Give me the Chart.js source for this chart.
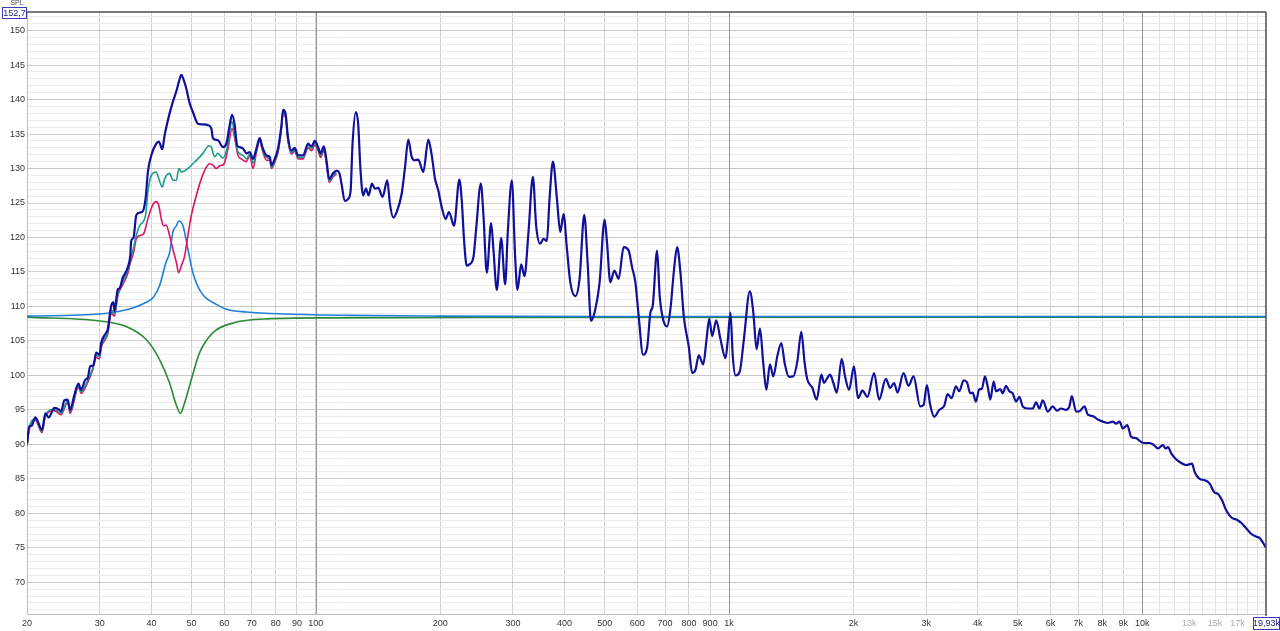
<!DOCTYPE html>
<html>
<head>
<meta charset="utf-8">
<title>SPL</title>
<script src="https://cdn.jsdelivr.net/npm/chart.js@4.4.1/dist/chart.umd.min.js"></script>
<style>
  html, body { margin: 0; padding: 0; background: #fff; }
  canvas { display: block; }
</style>
</head>
<body>
<canvas id="spl" width="1280" height="631"></canvas>
<script>
// measured response (dark blue), Hz / dB
const mainHz = [20, 20.26, 20.52, 20.95, 21.75, 22.16, 22.57, 23.3, 23.96, 24.18, 24.63, 25.09, 25.43, 26.05, 26.64, 27.04, 27.7, 28.05, 28.43, 28.84, 29.12, 29.4, 29.95, 30.24, 31.09, 31.37, 31.97, 32.38, 32.56, 33.17, 33.48, 34.11, 34.63, 35.08, 35.55, 35.75, 36.22, 36.76, 37.45, 38.02, 38.72, 39.23, 39.97, 41.1, 41.7, 42.5, 43.05, 44.27, 45.1, 45.96, 46.63, 47.26, 47.86, 48.59, 49.49, 50.41, 51.84, 53.31, 54.82, 55.88, 56.37, 57.97, 59.61, 60.75, 61.88, 62.69, 63.64, 64.46, 65.44, 66.66, 67.92, 69.18, 70.47, 71.81, 73.15, 74.27, 75.95, 77.36, 78.09, 79.54, 81.02, 82.57, 83.31, 84.44, 85.68, 87.33, 88.95, 90.59, 93.15, 95.79, 97.63, 99.45, 101.3, 102.7, 104.6, 106.1, 107.7, 110.1, 112.2, 113.9, 115.4, 117.5, 119.8, 121.4, 122.7, 125, 126.6, 128.3, 130.2, 132.2, 134.2, 136.7, 139, 141.6, 145.1, 148.9, 151.1, 153.9, 157.4, 161.3, 164.4, 167.4, 170.6, 173.8, 177, 182, 187.2, 190.8, 194.3, 197.9, 201.7, 206.2, 210.1, 216, 222.5, 225.5, 228.5, 231.9, 235.3, 240.6, 244.3, 250.8, 254.5, 259.3, 265.6, 269, 274.2, 280.9, 287.2, 291.5, 298.1, 303.6, 307.6, 314, 319.9, 327.1, 335.2, 341.4, 349.1, 355.6, 362.4, 367.8, 374.8, 383.3, 390.4, 397.7, 405.3, 412.9, 424.5, 434.8, 446.3, 454.7, 463.4, 474.7, 486.2, 499.9, 506.6, 516, 527.7, 540.6, 555.9, 571.6, 582.5, 593.4, 604.4, 619.4, 633.4, 645.2, 653.6, 669.8, 679.6, 692.6, 708.2, 721.4, 734.8, 748.8, 762.8, 777, 798.9, 814.3, 829.4, 844.9, 866, 882.1, 895.4, 910.6, 931.1, 953.7, 980.6, 993.3, 1008, 1021, 1037, 1062, 1086, 1123, 1145, 1166, 1188, 1210, 1231, 1256, 1280, 1309, 1338, 1365, 1396, 1431, 1463, 1496, 1524, 1547, 1591, 1630, 1673, 1698, 1724, 1756, 1789, 1823, 1874, 1909, 1952, 2006, 2052, 2103, 2163, 2244, 2308, 2396, 2454, 2509, 2557, 2644, 2719, 2796, 2901, 2957, 3012, 3068, 3137, 3226, 3317, 3381, 3457, 3541, 3607, 3697, 3766, 3836, 3887, 3959, 4033, 4087, 4163, 4226, 4288, 4370, 4427, 4535, 4596, 4681, 4768, 4859, 4949, 5041, 5138, 5283, 5433, 5534, 5637, 5745, 5907, 6074, 6221, 6362, 6543, 6665, 6754, 6918, 7047, 7246, 7386, 7595, 7810, 8030, 8257, 8491, 8649, 8810, 8980, 9198, 9404, 9671, 9906, 10129, 10416, 10675, 10915, 11223, 11388, 11542, 11756, 12088, 12430, 12783, 13196, 13389, 13767, 14158, 14560, 14920, 15257, 15602, 15979, 16433, 16898, 17378, 17870, 18378, 18899, 19250, 19618, 19930];
const mainDb = [90.1, 92.6, 92.7, 93.9, 92.1, 94.5, 93.9, 95.3, 95.0, 94.75, 96.4, 96.5, 95.0, 97.2, 98.8, 97.9, 99.4, 99.6, 101.3, 101.4, 102.0, 103.3, 103.0, 104.7, 106.2, 106.7, 110.1, 110.6, 109.3, 112.5, 112.6, 114.2, 114.9, 115.7, 117.3, 119.5, 120.0, 123.2, 123.6, 123.7, 125.6, 129.5, 131.9, 133.6, 133.9, 132.8, 134.8, 138.0, 139.7, 141.2, 142.6, 143.6, 142.9, 141.6, 139.5, 138.2, 136.5, 136.4, 136.3, 135.8, 134.4, 134.1, 133.1, 133.6, 136.3, 137.8, 136.3, 133.4, 133.1, 132.9, 132.2, 132.4, 131.4, 132.9, 134.4, 133.1, 131.9, 131.7, 130.5, 131.4, 132.9, 136.3, 138.5, 138.0, 134.4, 132.6, 133.0, 131.9, 131.9, 133.6, 133.2, 134.0, 133.1, 132.2, 133.2, 131.2, 128.5, 129.3, 129.7, 129.4, 127.8, 125.3, 125.6, 126.8, 133.6, 138.2, 136.5, 129.7, 126.1, 127.1, 126.1, 127.8, 127.1, 127.2, 125.9, 128.3, 124.9, 122.9, 123.9, 126.3, 130.2, 134.2, 131.7, 131.2, 131.3, 129.5, 134.2, 131.9, 128.5, 126.8, 124.4, 122.7, 123.7, 121.7, 128.4, 125.4, 119.5, 115.9, 116.1, 117.1, 121.2, 127.8, 123.2, 114.9, 122.1, 118.3, 112.4, 119.9, 113.2, 120.8, 128.3, 117.3, 112.4, 116.1, 114.4, 120.8, 128.8, 121.7, 119.1, 119.8, 119.5, 125.6, 131.0, 125.6, 120.8, 123.4, 118.3, 113.5, 111.5, 114.0, 123.3, 116.4, 107.9, 109.6, 113.5, 122.6, 119.3, 113.5, 115.2, 114.0, 118.6, 118.1, 115.7, 113.5, 108.6, 103.0, 104.0, 109.1, 110.1, 118.1, 111.5, 108.1, 107.1, 109.6, 114.9, 118.6, 114.9, 108.6, 104.2, 100.35, 100.8, 102.9, 101.6, 105.2, 108.2, 105.7, 108.0, 105.2, 102.5, 105.2, 109.1, 102.8, 100.0, 100.6, 105.2, 112.2, 109.1, 103.8, 106.8, 101.8, 97.9, 101.6, 99.85, 102.8, 104.7, 101.6, 99.8, 99.85, 102.0, 106.3, 101.8, 99.4, 98.2, 96.5, 100.1, 98.9, 99.5, 100.1, 98.9, 97.5, 102.4, 99.85, 97.9, 101.3, 96.7, 97.8, 96.9, 100.35, 96.5, 99.5, 98.2, 98.9, 97.5, 100.35, 98.5, 99.85, 95.5, 95.7, 98.6, 95.7, 94.0, 95.0, 95.6, 97.3, 96.7, 98.4, 97.7, 99.3, 99.0, 97.4, 97.5, 96.2, 98.0, 98.0, 99.85, 98.4, 96.5, 99.1, 97.7, 98.0, 97.4, 98.5, 97.7, 97.4, 96.2, 96.9, 95.5, 95.2, 95.2, 96.1, 95.2, 96.4, 94.75, 95.5, 94.9, 95.2, 95.0, 95.5, 97.0, 94.75, 94.8, 95.5, 94.3, 94.1, 93.6, 93.3, 93.1, 93.3, 93.0, 93.3, 92.3, 92.8, 91.1, 90.9, 90.4, 90.2, 90.2, 89.9, 89.4, 89.9, 89.4, 89.6, 88.7, 87.8, 87.3, 87.0, 87.2, 86.0, 85.0, 84.8, 84.3, 83.1, 82.8, 81.9, 80.4, 79.4, 79.1, 78.6, 77.8, 77.0, 76.6, 76.4, 75.7, 75.0];

// teal trace (low end only, merges with the main trace above ~110 Hz)
const tealHz = [20, 20.26, 20.95, 21.75, 22.16, 23.3, 24.18, 25.09, 25.43, 26.64, 27.04, 28.05, 28.84, 29.4, 29.95, 30.24, 31.37, 31.97, 32.56, 33.17, 34.11, 35.08, 35.55, 36.22, 36.76, 37.45, 38.72, 39.23, 39.97, 41.1, 41.7, 42.5, 43.05, 44.27, 45.1, 45.96, 46.63, 47.26, 49.49, 50.41, 51.84, 53.31, 55.13, 55.88, 56.91, 57.97, 59.61, 60.95, 62.69, 63.64, 64.81, 66.66, 67.92, 69.18, 70.47, 71.81, 73.15, 74.27, 75.95, 77.36, 78.09, 79.54, 81.02, 82.57, 83.31, 84.44, 85.68, 87.33, 88.95, 90.59, 93.15, 95.79, 97.63, 99.45, 101.3, 102.7, 104.6, 106.1, 107.7, 110.1, 112.2];
const tealDb = [90.0, 92.4, 93.7, 91.9, 94.3, 95.1, 94.5, 96.3, 94.8, 98.5, 97.6, 99.3, 101.0, 102.9, 102.7, 104.3, 106.3, 109.5, 108.9, 111.8, 113.6, 115.2, 116.8, 118.5, 120.3, 121.7, 123.2, 126.6, 129.0, 129.5, 128.5, 127.3, 128.5, 129.3, 128.3, 128.3, 130.0, 129.5, 130.2, 130.7, 131.4, 132.2, 133.3, 133.1, 131.7, 132.2, 131.5, 132.9, 136.8, 134.8, 132.4, 131.9, 131.4, 132.1, 130.8, 132.6, 134.2, 132.8, 131.6, 131.4, 130.2, 131.1, 132.6, 136.0, 138.2, 137.7, 134.1, 132.3, 132.7, 131.6, 131.6, 133.3, 132.9, 133.7, 132.8, 131.9, 132.9, 130.9, 128.2, 129.0, 129.4];

// pink trace
const pinkHz = [20, 20.26, 20.95, 21.75, 22.16, 23.3, 24.18, 25.09, 25.43, 26.64, 27.04, 28.05, 28.84, 29.4, 29.95, 30.24, 31.37, 31.97, 32.56, 33.17, 34.11, 35.08, 35.55, 36.22, 36.76, 37.58, 38.28, 39.23, 40.19, 41.1, 41.7, 42.26, 42.81, 43.43, 44.27, 45.1, 45.96, 46.56, 47.26, 48.13, 49.03, 49.97, 51.38, 52.83, 54.33, 55.34, 56.37, 57.45, 58.52, 59.84, 61.3, 62.69, 63.64, 64.81, 66.06, 67.92, 69.18, 70.47, 71.81, 73.15, 74.27, 75.95, 77.36, 78.09, 79.54, 81.02, 82.57, 83.31, 84.44, 85.68, 87.33, 88.95, 90.59, 93.15, 95.79, 97.63, 99.45, 101.3, 102.7, 104.6, 106.1, 107.7, 110.1, 112.2];
const pinkDb = [89.8, 92.2, 93.5, 91.7, 94.1, 94.9, 94.3, 96.1, 94.5, 98.3, 97.4, 99.0, 100.8, 102.6, 102.4, 104.0, 106.0, 109.0, 108.6, 111.5, 113.2, 114.8, 116.3, 117.8, 119.8, 120.3, 120.5, 122.7, 124.6, 125.2, 124.6, 122.7, 121.7, 121.8, 120.3, 118.3, 116.4, 114.9, 115.9, 117.3, 120.3, 123.2, 126.1, 128.5, 130.2, 130.7, 130.5, 130.0, 130.4, 130.6, 132.9, 135.8, 134.4, 131.9, 131.4, 131.0, 131.9, 130.0, 132.3, 134.0, 132.6, 131.2, 131.2, 130.0, 130.9, 132.4, 135.8, 138.0, 137.5, 133.9, 132.1, 132.5, 131.4, 131.4, 133.0, 132.6, 133.4, 132.6, 131.6, 132.6, 130.7, 128.0, 128.8, 129.2];

// filter curves: boost (light blue) and cut (green)
const boostHz = [20, 30, 33.5, 36.2, 38.87, 40.4, 41.86, 43.4, 44.27, 45.1, 45.96, 46.63, 47.7, 49.03, 50.4, 52.83, 57.45, 60.75, 67.92, 84.9, 120, 200, 500, 19930];
const boostDb = [108.6, 108.9, 109.3, 109.8, 110.6, 111.3, 113.0, 116.4, 117.8, 120.8, 121.7, 122.4, 121.7, 118.3, 114.9, 112.0, 110.3, 109.6, 109.2, 108.9, 108.7, 108.6, 108.55, 108.55];
const cutHz = [20, 30, 34.76, 38.87, 41.86, 44.27, 45.96, 46.99, 48.13, 49.97, 52.34, 56.37, 63.03, 75.95, 110, 300, 19930];
const cutDb = [108.45, 107.9, 107.1, 105.2, 102.3, 98.9, 95.7, 94.5, 96.0, 99.4, 103.3, 106.2, 107.6, 108.2, 108.35, 108.4, 108.45];

// axis ticks
const xGridTicks = [20, 30, 40, 50, 60, 70, 80, 90, 100, 200, 300, 400, 500, 600, 700, 800, 900, 1000, 2000, 3000, 4000, 5000, 6000, 7000, 8000, 9000, 10000, 11000, 12000, 13000, 14000, 15000, 16000, 17000, 18000, 19000];
const xDecades = [100, 1000, 10000];
const xLabelTicks = [20, 30, 40, 50, 60, 70, 80, 90, 100, 200, 300, 400, 500, 600, 700, 800, 900, 1000, 2000, 3000, 4000, 5000, 6000, 7000, 8000, 9000, 10000, 13000, 15000, 17000];
const xFaintLabels = [13000, 15000, 17000];
const yLabelTicks = [70, 75, 80, 85, 90, 95, 100, 105, 110, 115, 120, 125, 130, 135, 140, 145, 150];
const yMin = 65.4, yMax = 152.7, xMin = 20, xMax = 19930;

function pts(hz, db) {
  return hz.map((f, i) => ({ x: f, y: db[i] }));
}

function fmtHz(v) {
  return v >= 1000 ? (v / 1000) + 'k' : String(v);
}

const FONT = 'Liberation Sans';

// solid decade lines, boxed end values, SPL caption, dark frame on top/right
const frame = {
  id: 'frame',
  beforeDatasetsDraw(chart) {
    const { ctx, chartArea: a, scales } = chart;
    ctx.save();
    ctx.strokeStyle = '#959595';
    ctx.lineWidth = 1;
    xDecades.forEach(v => {
      const px = Math.round(scales.x.getPixelForValue(v)) + 0.5;
      ctx.beginPath();
      ctx.moveTo(px, a.top);
      ctx.lineTo(px, a.bottom);
      ctx.stroke();
    });
    ctx.restore();
  },
  afterDraw(chart) {
    const { ctx, chartArea: a } = chart;
    ctx.save();
    ctx.strokeStyle = '#505050';
    ctx.lineWidth = 1.5;
    ctx.beginPath();
    ctx.moveTo(a.left, a.top);
    ctx.lineTo(a.right, a.top);
    ctx.moveTo(a.right, a.top);
    ctx.lineTo(a.right, a.bottom + 2);
    ctx.stroke();

    ctx.font = '7px ' + FONT;
    ctx.fillStyle = '#555';
    ctx.textAlign = 'center';
    ctx.textBaseline = 'middle';
    ctx.fillText('SPL', 17, 3);

    function box(x, y, w, h, txt) {
      ctx.fillStyle = '#fff';
      ctx.fillRect(x, y, w, h);
      ctx.strokeStyle = '#3a3ab8';
      ctx.lineWidth = 1;
      ctx.strokeRect(x + 0.5, y + 0.5, w - 1, h - 1);
      ctx.fillStyle = '#1a1a80';
      ctx.font = '9px ' + FONT;
      ctx.textAlign = 'center';
      ctx.textBaseline = 'middle';
      ctx.fillText(txt, x + w / 2, y + h / 2 + 0.5);
    }
    box(2, 7, 25, 12, '152,7');
    box(1253, 617, 27, 13, '19,93k');
    ctx.restore();
  }
};

new Chart(document.getElementById('spl'), {
  type: 'line',
  data: {
    datasets: [
      { label: 'measurement', data: pts(mainHz, mainDb), borderColor: '#10109c', borderWidth: 2.2, order: 1 },
      { label: 'teal', data: pts(tealHz, tealDb), borderColor: '#1c9c8c', borderWidth: 1.6, order: 2 },
      { label: 'pink', data: pts(pinkHz, pinkDb), borderColor: '#dc1464', borderWidth: 1.6, order: 3 },
      { label: 'boost', data: pts(boostHz, boostDb), borderColor: '#1f7fd8', borderWidth: 1.6, order: 4 },
      { label: 'cut', data: pts(cutHz, cutDb), borderColor: '#2c8a34', borderWidth: 1.6, order: 5 }
    ]
  },
  options: {
    responsive: false,
    animation: false,
    devicePixelRatio: 1,
    parsing: false,
    layout: { padding: { top: 12, right: 14, left: 0, bottom: 0 } },
    elements: {
      point: { radius: 0 },
      line: { cubicInterpolationMode: 'monotone', fill: false }
    },
    plugins: {
      legend: { display: false },
      tooltip: { enabled: false }
    },
    scales: {
      x: {
        type: 'logarithmic',
        min: xMin,
        max: xMax,
        afterBuildTicks(scale) {
          scale.ticks = xGridTicks.map(v => ({ value: v }));
        },
        afterFit(scale) { scale.height = 17; },
        border: { color: '#bdbdbd', width: 1 },
        grid: {
          drawTicks: false,
          color(ctx) {
            const v = ctx.tick && ctx.tick.value;
            if (v > 10000) return '#e2e2e2';
            return '#d2d2d2';
          },
          lineWidth: 1
        },
        ticks: {
          autoSkip: false,
          maxRotation: 0,
          padding: 4,
          font: { family: FONT, size: 9 },
          color(ctx) {
            return xFaintLabels.includes(ctx.tick.value) ? '#a8a8a8' : '#333';
          },
          callback(value) {
            return xLabelTicks.includes(value) ? fmtHz(value) : '';
          }
        }
      },
      y: {
        type: 'linear',
        min: yMin,
        max: yMax,
        afterBuildTicks(scale) {
          const t = [];
          for (let v = Math.ceil(yMin); v <= Math.floor(yMax); v++) t.push({ value: v });
          scale.ticks = t;
        },
        afterFit(scale) { scale.width = 27; },
        border: { color: '#bdbdbd', width: 1 },
        grid: {
          drawTicks: false,
          color(ctx) {
            const v = ctx.tick && ctx.tick.value;
            if (v % 10 === 0) return '#c6c6c6';
            if (v % 5 === 0) return '#d2d2d2';
            return '#ebebeb';
          }
        },
        ticks: {
          autoSkip: false,
          padding: 2,
          font: { family: FONT, size: 9 },
          color: '#333',
          callback(value) {
            return yLabelTicks.includes(value) ? String(value) : '';
          }
        }
      }
    }
  },
  plugins: [frame]
});
</script>
</body>
</html>
